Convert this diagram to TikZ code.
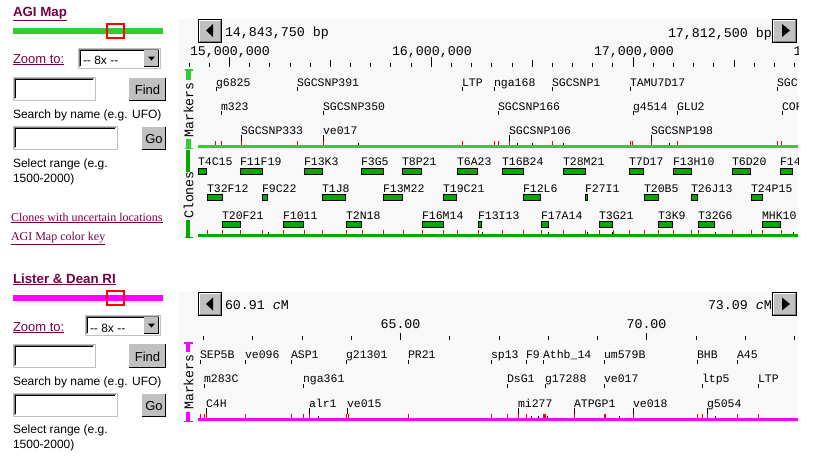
\documentclass[tikz,border=0pt]{standalone}
\usepackage{fontspec}
\setmainfont{Liberation Sans}
\newfontfamily\monof{Liberation Mono}
\newfontfamily\serff{Liberation Serif}
\definecolor{linkc}{HTML}{770044}
\definecolor{limeg}{HTML}{33CC33}
\definecolor{cloneg}{HTML}{00AA00}
\definecolor{magen}{HTML}{FF00FF}
\definecolor{panelbg}{HTML}{F8F8F8}
\definecolor{btng}{HTML}{C0C0C0}
\tikzset{
  txt/.style={inner sep=0pt,outer sep=0pt,anchor=base west},
  mklabel/.style={txt,font=\monof\fontsize{11.5}{12}\selectfont},
  rulerlabel/.style={txt,font=\monof\fontsize{13.3}{14}\selectfont},
  sidelabel/.style={inner sep=0pt,rotate=90,font=\monof\fontsize{13.3}{14}\selectfont},
  formtxt/.style={txt,font=\fontsize{12}{14}\selectfont},
  linktxt/.style={txt,text=linkc,font=\fontsize{13}{14}\selectfont},
  serflink/.style={txt,text=linkc,font=\serff\fontsize{12}{14}\selectfont},
  titletxt/.style={txt,text=linkc,font=\bfseries\fontsize{13.3}{14}\selectfont},
  redtick/.style={red,line width=1pt},
  blacktick/.style={black,line width=1pt},
  clonebox/.style={draw=black,fill=cloneg,line width=1pt},
}
\newcommand{\mkrow}[4]{\foreach \xx/\tt in {#4}{\node[mklabel] at (\xx,#1) {\tt};\draw[blacktick] (\xx+.5,#2) -- (\xx+.5,#3);}}
\newcommand{\axticks}[4]{\foreach \xx in {#4}{\draw[#1] (\xx+.5,#2) -- (\xx+.5,#3);}}
\newcommand{\clrow}[4]{\foreach \xa/\xb/\tt in {#4}{\node[mklabel] at (\xa,#3) {\tt};\draw[clonebox] (\xa+.5,#1+.5) rectangle (\xb-.5,#2-.5);}}
\newcommand{\navbtn}[4]{%
  \fill[btng] (#1,#2) rectangle (#3,#4);
  \draw[white,line width=1pt] (#1+1.5,#4-2) -- (#1+1.5,#2+1.5) -- (#3-2,#2+1.5);
  \draw[gray,line width=1pt] (#1+1.5,#4-1.5) -- (#3-1.5,#4-1.5) -- (#3-1.5,#2+1.5);
  \draw[black,line width=1pt] (#1+.5,#2+.5) rectangle (#3-.5,#4-.5);}
\newcommand{\formbtn}[5]{%
  \fill[btng] (#1,#2) rectangle (#3,#4);
  \draw[black,line width=1pt] (#1,#4-.5) -- (#3-.5,#4-.5) -- (#3-.5,#2);
  \node[inner sep=0pt,anchor=base,font=\fontsize{13}{14}\selectfont] at ({(#1+#3)/2},#4-7) {#5};}
\newcommand{\inputf}[4]{%
  \fill[white] (#1,#2) rectangle (#3,#4);
  \draw[btng,line width=1pt] (#1+.5,#2+.5) rectangle (#3-.5,#4-.5);
  \draw[gray,line width=1pt] (#1+1.5,#4-2) -- (#1+1.5,#2+1.5) -- (#3-2,#2+1.5);
  \draw[black,line width=1pt] (#1+2.5,#4-3) -- (#1+2.5,#2+2.5) -- (#3-3,#2+2.5);}
\newcommand{\selbox}[4]{%
  \inputf{#1}{#2}{#3}{#4}
  \fill[btng] (#3-17,#2+2) rectangle (#3-2,#4-2);
  \draw[black,line width=1pt] (#3-2.5,#2+2) -- (#3-2.5,#4-2.5) -- (#3-17,#4-2.5);
  \fill[black] (#3-13,{(#2+#4)/2-2}) -- (#3-6,{(#2+#4)/2-2}) -- (#3-9.5,{(#2+#4)/2+2}) -- cycle;}
\begin{document}
\begin{tikzpicture}[x=1pt,y=-1pt]
\useasboundingbox (0,0) rectangle (815,456);
\fill[white] (0,0) rectangle (815,456);

%% ---------- left column, AGI
\node[titletxt] at (13,16) {\underline{AGI Map}};
\fill[panelbg] (13,23) rectangle (163,39);
\fill[limeg] (13,28) rectangle (163,34);
\draw[red,line width=2pt] (107,24) rectangle (124,38);
\node[linktxt] at (13,63) {\underline{Zoom to:}};
\selbox{78}{48}{161}{69}
\node[formtxt] at (83,64) {{-}{-} 8x {-}{-}};
\inputf{13}{77}{96}{101}
\formbtn{129}{78}{166}{101}{Find}
\node[formtxt] at (13,118) {Search by name (e.g. UFO)};
\inputf{13}{126}{118}{150}
\formbtn{142}{127}{166}{150}{Go}
\node[formtxt] at (13,167) {Select range (e.g.};
\node[formtxt] at (13,182) {1500-2000)};
\node[serflink] at (11,221) {\underline{Clones with uncertain locations}};
\node[serflink] at (11,240) {\underline{AGI Map color key}};

%% ---------- left column, Lister
\node[titletxt] at (13,283) {\underline{Lister \& Dean RI}};
\fill[panelbg] (13,290) rectangle (163,306);
\fill[magen] (13,295) rectangle (163,301);
\draw[red,line width=2pt] (107,291) rectangle (124,305);
\node[linktxt] at (13,331) {\underline{Zoom to:}};
\selbox{85}{315}{161}{336}
\node[formtxt] at (90,332) {{-}{-} 8x {-}{-}};
\inputf{13}{344}{96}{368}
\formbtn{129}{344}{166}{368}{Find}
\node[formtxt] at (13,385) {Search by name (e.g. UFO)};
\inputf{13}{393}{118}{417}
\formbtn{142}{394}{166}{417}{Go}
\node[formtxt] at (13,433) {Select range (e.g.};
\node[formtxt] at (13,448) {1500-2000)};

%% ---------- panel 1
\fill[panelbg] (178,19) rectangle (798,238);
\navbtn{198}{19}{222}{43}
\fill[black] (206,30.5) -- (213,24) -- (213,37) -- cycle;
\navbtn{772}{19}{797}{43}
\fill[black] (790,30.5) -- (782,24) -- (782,37) -- cycle;
\node[rulerlabel] at (225,36) {14,843,750 bp};
\node[rulerlabel] at (668,37) {17,812,500 bp};
\begin{scope}
\clip (178,19) rectangle (798,238);
\node[rulerlabel] at (190,55) {15,000,000};
\node[rulerlabel] at (392,55) {16,000,000};
\node[rulerlabel] at (594,55) {17,000,000};
\node[rulerlabel] at (793.5,55) {1};
\foreach \k in {-2,...,28}{\pgfmathsetmacro{\xx}{229+20.18*\k}\draw[blacktick] (\xx+.5,63) -- (\xx+.5,67);}
\foreach \xx in {330,532,734}{\draw[blacktick] (\xx+.5,60) -- (\xx+.5,67);}
\foreach \xx in {229,431,633}{\draw[blacktick] (\xx+.5,57) -- (\xx+.5,67);}
\mkrow{86}{87}{91}{216/g6825,297/SGCSNP391,462/LTP,494/nga168,552/SGCSNP1,630/TAMU7D17,777/SGC}
\mkrow{110}{111}{115}{221/m323,323/SGCSNP350,498/SGCSNP166,633/g4514,677/GLU2,782/COP}
\mkrow{134}{135}{141}{241/SGCSNP333,323/ve017,509/SGCSNP106,651/SGCSNP198}
\clrow{168}{175}{165}{198/207/T4C15,240/263/F11F19,304/323/F13K3,361/384/F3G5,402/422/T8P21,457/478/T6A23,502/524/T16B24,563/586/T28M21,629/644/T7D17,673/692/F13H10,732/751/T6D20,780/793/F14}
\clrow{194}{201}{192}{207/223/T32F12,262/268/F9C22,322/346/T1J8,383/403/F13M22,443/457/T19C21,523/541/F12L6,585/588/F27I1,644/659/T20B5,691/698/T26J13,751/763/T24P15}
\clrow{221}{228}{219}{222/241/T20F21,283/304/F1011,346/362/T2N18,422/444/F16M14,478/482/F13I13,541/549/F17A14,599/613/T3G21,658/673/T3K9,698/715/T32G6,762/781/MHK10}
\end{scope}
\axticks{redtick}{141}{145}{215,221,241,297,323,462,494,498,509,552,630,632,651,677,777,781}
\axticks{blacktick}{143}{145}{358,517,532,563,669}
\fill[limeg] (198,145) rectangle (798,148);
\axticks{redtick}{230}{234}{207,222,240,262,283,304,322,346,362,383,403,422,443,457,478,502,523,541,563,585,599,613,629,644,658,673,691,698,732,751,762,781}
\axticks{blacktick}{232}{234}{268,482,548,587,612,715,793}
\fill[cloneg] (198,234) rectangle (798,237);
% side bars, panel 1
\fill[limeg] (186,69) rectangle (191,80);
\fill[limeg] (186,139) rectangle (191,149);
\fill[limeg] (185,69) rectangle (193,70.5);
\fill[limeg] (185,147.5) rectangle (193,149);
\node[sidelabel] at (188.5,110) {Markers};
\fill[cloneg] (186,150) rectangle (190,172);
\fill[cloneg] (186,220) rectangle (190,238);
\fill[cloneg] (184.5,236.5) rectangle (192.5,238);
\node[sidelabel] at (188.5,195) {Clones};

%% ---------- panel 2
\fill[panelbg] (178,292) rectangle (798,422);
\navbtn{198}{292}{222}{316}
\fill[black] (206,304) -- (213,297.5) -- (213,310.5) -- cycle;
\navbtn{772}{292}{797}{316}
\fill[black] (790,304) -- (782,297.5) -- (782,310.5) -- cycle;
\node[rulerlabel] at (225,309) {60.91 {\itshape c}M};
\node[rulerlabel] at (708,309) {73.09 {\itshape c}M};
\node[rulerlabel,anchor=base] at (400.5,328) {65.00};
\node[rulerlabel,anchor=base] at (646.5,328) {70.00};
\foreach \k in {-4,...,8}{\pgfmathsetmacro{\xx}{400+49.25*\k}\draw[blacktick] (\xx+.5,336) -- (\xx+.5,340);}
\foreach \xx in {400,646}{\draw[blacktick] (\xx+.5,333) -- (\xx+.5,340);}
\mkrow{358}{360}{364}{200/SEP5B,245/ve096,291/ASP1,346/g21301,408/PR21,491/sp13,526/F9,543/Athb\_14,604/um579B,697/BHB,737/A45}
\mkrow{382}{384}{388}{204/m283C,303/nga361,507/DsG1,545/g17288,604/ve017,702/ltp5,758/LTP}
\mkrow{407}{408}{414}{206/C4H,309/alr1,347/ve015,518/mi277,574/ATPGP1,633/ve018,707/g5054}
\axticks{redtick}{414}{418}{200,204,206,245,291,303,309,346,348,408,491,507,518,526,543,544,545,574,604,605,633,697,702,707,737,758}
\axticks{blacktick}{416}{418}{318,531,538,547,619,715}
\fill[magen] (198,418) rectangle (798,421);
\fill[magen] (186,342) rectangle (190,352);
\fill[magen] (186,412) rectangle (190,422);
\fill[magen] (184,342) rectangle (193,343.5);
\fill[magen] (184,420.5) rectangle (193,422);
\node[sidelabel] at (188.5,382) {Markers};
\end{tikzpicture}
\end{document}
